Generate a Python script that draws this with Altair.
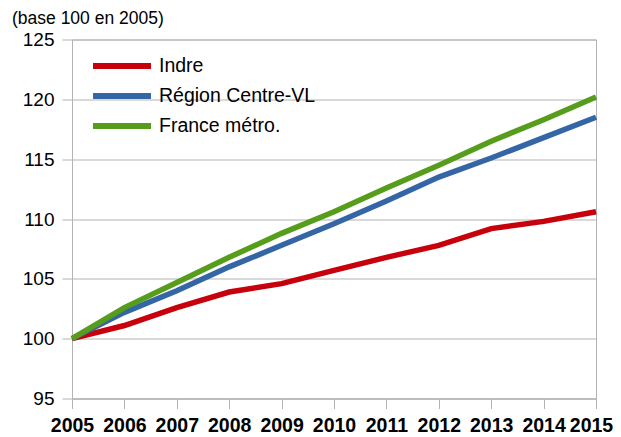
import altair as alt
import pandas as pd

years = [2005, 2006, 2007, 2008, 2009, 2010, 2011, 2012, 2013, 2014, 2015]
indre = [100, 101.1, 102.6, 103.9, 104.6, 105.7, 106.8, 107.8, 109.2, 109.8, 110.6]
region = [100, 102.2, 104.0, 106.0, 107.8, 109.6, 111.5, 113.5, 115.1, 116.8, 118.5]
france = [100, 102.6, 104.7, 106.8, 108.8, 110.6, 112.6, 114.5, 116.5, 118.3, 120.2]
series_names = ["Indre", "Région Centre-VL", "France métro."]
series_colors = ["#c8000b", "#3465a4", "#579d1c"]
y_ticks = [95, 100, 105, 110, 115, 120, 125]

rows = []
for name, vals in zip(series_names, [indre, region, france]):
    for yr, v in zip(years, vals):
        rows.append({"annee": str(yr), "indice": v, "serie": name})
df = pd.DataFrame(rows)

FONT = "Liberation Sans"
GRAY = "#b3b3b3"

chart = (
    alt.Chart(df)
    .mark_line(strokeWidth=5.5)
    .encode(
        x=alt.X(
            "annee:O",
            scale=alt.Scale(type="point", padding=0),
            axis=alt.Axis(
                title=None,
                labelAngle=0,
                labelFontSize=19.5,
                labelFontWeight="bold",
                labelPadding=8,
                labelOffset={"condition": {"test": "datum.value == '2015'", "value": -5}, "value": 0},
                grid=False,
            ),
        ),
        y=alt.Y(
            "indice:Q",
            scale=alt.Scale(domain=[95, 125], nice=False, zero=False),
            axis=alt.Axis(
                title=None,
                values=y_ticks,
                labelFontSize=19,
                labelPadding=8,
                grid=True,
            ),
        ),
        color=alt.Color(
            "serie:N",
            sort=series_names,
            scale=alt.Scale(domain=series_names, range=series_colors),
            legend=alt.Legend(
                title=None,
                orient="none",
                legendX=18,
                legendY=16.5,
                symbolType="stroke",
                symbolSize=3364,
                symbolStrokeWidth=6,
                labelFontSize=19.5,
                labelFont=FONT,
                labelColor="#000000",
                labelOffset=5,
                clipHeight=20,
                rowPadding=10,
                padding=0,
            ),
        ),
        order=alt.Order("serie_order:Q"),
    )
    .transform_calculate(
        serie_order="indexof(['Indre','Région Centre-VL','France métro.'], datum.serie)"
    )
    .properties(
        width=524,
        height=359,
        autosize=alt.AutoSizeParams(type="none"),
        padding={"left": 64, "top": 31.5, "right": 17, "bottom": 38.5},
        title=alt.TitleParams(
            "(base 100 en 2005)",
            anchor="start",
            frame="group",
            dx=-60,
            dy=19,
            offset=8,
            fontSize=17.5,
            fontWeight="normal",
            font=FONT,
            color="#000000",
            baseline="alphabetic",
        ),
    )
    .configure_view(stroke=GRAY, strokeWidth=1)
    .configure_axis(
        labelFont=FONT,
        labelColor="#000000",
        gridColor=GRAY,
        domainColor=GRAY,
        tickColor=GRAY,
        tickSize=10,
        gridWidth=1,
        domainWidth=1,
    )
)

chart.save("out.html", embed_options={"renderer": "svg", "actions": False})
